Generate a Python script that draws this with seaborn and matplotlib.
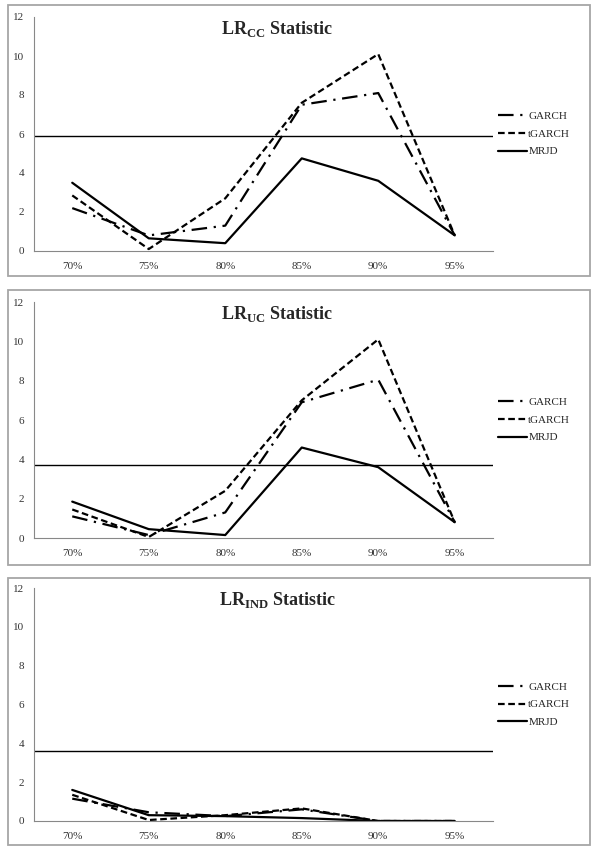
"""Backtesting LR statistics (LRcc, LRuc, LRind) for GARCH, tGARCH and MRJD."""

import matplotlib

matplotlib.use("Agg")

import matplotlib.pyplot as plt
import pandas as pd
import seaborn as sns
from matplotlib.lines import Line2D
from matplotlib.patches import Rectangle

sns.set_theme(style="white")
plt.rcParams["font.family"] = ["Liberation Serif", "DejaVu Serif"]
plt.rcParams["mathtext.fontset"] = "custom"
plt.rcParams["mathtext.rm"] = "Liberation Serif"
plt.rcParams["mathtext.bf"] = "Liberation Serif:bold"

levels = ["70%", "75%", "80%", "85%", "90%", "95%"]
models = ["GARCH", "tGARCH", "MRJD"]

# LRcc
cc_garch = [2.2, 0.8, 1.3, 7.5, 8.1, 0.8]
cc_tgarch = [2.85, 0.1, 2.7, 7.6, 10.1, 0.8]
cc_mrjd = [3.5, 0.65, 0.4, 4.75, 3.6, 0.8]
cc_crit = 5.9

# LRuc
uc_garch = [1.1, 0.15, 1.3, 6.9, 8.05, 0.8]
uc_tgarch = [1.45, 0.05, 2.4, 7.0, 10.1, 0.8]
uc_mrjd = [1.85, 0.45, 0.15, 4.6, 3.6, 0.8]
uc_crit = 3.7

# LRind
ind_garch = [1.15, 0.45, 0.25, 0.6, 0.0, 0.0]
ind_tgarch = [1.35, 0.05, 0.3, 0.65, 0.0, 0.0]
ind_mrjd = [1.6, 0.3, 0.25, 0.15, 0.0, 0.0]
ind_crit = 3.62

panels = [
    ("CC", [cc_garch, cc_tgarch, cc_mrjd], cc_crit),
    ("UC", [uc_garch, uc_tgarch, uc_mrjd], uc_crit),
    ("IND", [ind_garch, ind_tgarch, ind_mrjd], ind_crit),
]

dash_map = {"GARCH": (7, 3, 1, 3), "tGARCH": (3, 1.6), "MRJD": ""}

W, H = 593, 848
fig = plt.figure(figsize=(W / 100, H / 100), dpi=100)

# pixel geometry: (box top, box bottom, y of 0, y of 12)
layout = [(5, 276, 251, 17), (290, 565, 538, 302), (578, 845, 821, 588)]
ax_left, ax_right = 34, 493

for (sub, series, crit), (btop, bbot, y0, y12) in zip(panels, layout):
    fig.patches.append(Rectangle((8 / W, 1 - bbot / H), (590 - 8) / W, (bbot - btop) / H,
                                 transform=fig.transFigure, fill=False,
                                 edgecolor="#a6a6a6", linewidth=1.3))
    ax = fig.add_axes([ax_left / W, 1 - y0 / H, (ax_right - ax_left) / W, (y0 - y12) / H])
    df = pd.DataFrame({
        "level": levels * 3,
        "value": [v for s in series for v in s],
        "model": [m for m in models for _ in levels],
    })
    sns.lineplot(data=df, x="level", y="value", style="model", dashes=dash_map,
                 color="black", linewidth=1.6, ax=ax, legend=False, sort=False)
    ax.axhline(crit, color="black", linewidth=1.0)

    ax.set_xlim(-0.5, 5.5)
    ax.set_ylim(0, 12)
    ax.set_yticks(range(0, 13, 2))
    ax.set_xticks(range(len(levels)))
    ax.set_xticklabels(levels)
    ax.set_xticks([i - 0.5 for i in range(len(levels) + 1)], minor=True)
    ax.tick_params(axis="x", which="major", length=0, pad=8, labelsize=8, labelcolor="#333333")
    ax.tick_params(axis="x", which="minor", length=4, width=0.8, color="#888888", direction="out")
    ax.tick_params(axis="y", length=4, width=0.8, color="#888888", direction="out",
                   labelsize=8, labelcolor="#333333", pad=3)
    ax.set_xlabel("")
    ax.set_ylabel("")
    for side in ["top", "right"]:
        ax.spines[side].set_visible(False)
    for side in ["left", "bottom"]:
        ax.spines[side].set_color("#888888")
        ax.spines[side].set_linewidth(0.8)

    ax.text(0.53, 0.99, r"LR$_{\mathbf{" + sub + r"}}$ Statistic", transform=ax.transAxes,
            ha="center", va="top", fontsize=13, fontweight="bold")

    handles = [Line2D([], [], color="black", linewidth=1.6, dashes=dash_map[m]) for m in models[:2]]
    handles.append(Line2D([], [], color="black", linewidth=1.6, linestyle="-"))
    ax.legend(handles, models, loc="center left", bbox_to_anchor=(0.99, 0.5),
              frameon=False, fontsize=8, handlelength=2.6, handletextpad=0.1,
              labelspacing=0.7)

fig.savefig("out.png", dpi=100)
